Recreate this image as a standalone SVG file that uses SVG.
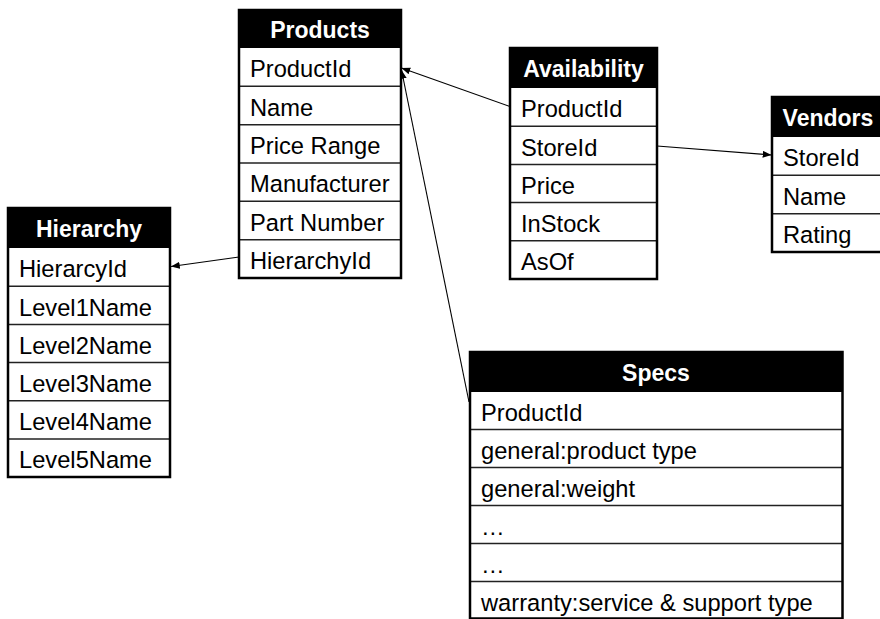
<svg xmlns="http://www.w3.org/2000/svg" width="880" height="619" viewBox="0 0 880 619">
<style>
.bg{fill:#fff}
.box{fill:none;stroke:#000;stroke-width:2.5}
.hd{fill:#000}
.sep{stroke:#222;stroke-width:1.5}
.t{font-family:"Liberation Sans",Arial,Helvetica,sans-serif;font-size:23.7px;fill:#000}
.h{font-family:"Liberation Sans",Arial,Helvetica,sans-serif;font-size:23px;font-weight:bold;fill:#fff;text-anchor:middle}
.c{stroke:#000;stroke-width:1.1;fill:none;marker-end:url(#ah)}
</style>
<defs>
<marker id="ah" viewBox="0 0 10 8" refX="10" refY="4" markerWidth="9" markerHeight="7" markerUnits="userSpaceOnUse" orient="auto">
<path d="M0,0 L10,4 L0,8 z" fill="#000"/>
</marker>
</defs>
<rect width="880" height="619" fill="#fff"/>

<g id="connectors">
<line class="c" x1="510" y1="106.5" x2="401.5" y2="68"/>
<line class="c" x1="469" y1="402" x2="401.5" y2="70"/>
<line class="c" x1="239" y1="257" x2="171" y2="266.5"/>
<line class="c" x1="657" y1="146" x2="771.5" y2="155"/>
</g>

<g id="products">
<rect class="bg" x="239" y="10" width="162" height="268"/>
<rect class="hd" x="239" y="10" width="162" height="38"/>
<line class="sep" x1="239" y1="86.3" x2="401" y2="86.3"/>
<line class="sep" x1="239" y1="124.7" x2="401" y2="124.7"/>
<line class="sep" x1="239" y1="163" x2="401" y2="163"/>
<line class="sep" x1="239" y1="201.3" x2="401" y2="201.3"/>
<line class="sep" x1="239" y1="239.7" x2="401" y2="239.7"/>
<rect class="box" x="239" y="10" width="162" height="268"/>
<text class="h" x="320" y="37.5">Products</text>
<text class="t" x="250" y="77.3">ProductId</text>
<text class="t" x="250" y="115.6">Name</text>
<text class="t" x="250" y="154">Price Range</text>
<text class="t" x="250" y="192.3">Manufacturer</text>
<text class="t" x="250" y="230.6">Part Number</text>
<text class="t" x="250" y="269">HierarchyId</text>
</g>

<g id="availability">
<rect class="bg" x="510" y="48" width="147" height="231"/>
<rect class="hd" x="510" y="48" width="147" height="40"/>
<line class="sep" x1="510" y1="126.2" x2="657" y2="126.2"/>
<line class="sep" x1="510" y1="164.4" x2="657" y2="164.4"/>
<line class="sep" x1="510" y1="202.6" x2="657" y2="202.6"/>
<line class="sep" x1="510" y1="240.8" x2="657" y2="240.8"/>
<rect class="box" x="510" y="48" width="147" height="231"/>
<text class="h" x="583.5" y="76.5">Availability</text>
<text class="t" x="521" y="117.3">ProductId</text>
<text class="t" x="521" y="155.5">StoreId</text>
<text class="t" x="521" y="193.7">Price</text>
<text class="t" x="521" y="231.9">InStock</text>
<text class="t" x="521" y="270.1">AsOf</text>
</g>

<g id="vendors">
<rect class="bg" x="772" y="97" width="112" height="155"/>
<rect class="hd" x="772" y="97" width="112" height="40"/>
<line class="sep" x1="772" y1="175.3" x2="884" y2="175.3"/>
<line class="sep" x1="772" y1="213.7" x2="884" y2="213.7"/>
<rect class="box" x="772" y="97" width="112" height="155"/>
<text class="h" x="828" y="125.5">Vendors</text>
<text class="t" x="783" y="166.3">StoreId</text>
<text class="t" x="783" y="204.6">Name</text>
<text class="t" x="783" y="243">Rating</text>
</g>

<g id="hierarchy">
<rect class="bg" x="8" y="208" width="162" height="269"/>
<rect class="hd" x="8" y="208" width="162" height="40"/>
<line class="sep" x1="8" y1="286.2" x2="170" y2="286.2"/>
<line class="sep" x1="8" y1="324.4" x2="170" y2="324.4"/>
<line class="sep" x1="8" y1="362.6" x2="170" y2="362.6"/>
<line class="sep" x1="8" y1="400.8" x2="170" y2="400.8"/>
<line class="sep" x1="8" y1="439" x2="170" y2="439"/>
<rect class="box" x="8" y="208" width="162" height="269"/>
<text class="h" x="89" y="236.5">Hierarchy</text>
<text class="t" x="19" y="277.3">HierarcyId</text>
<text class="t" x="19" y="315.5">Level1Name</text>
<text class="t" x="19" y="353.7">Level2Name</text>
<text class="t" x="19" y="391.9">Level3Name</text>
<text class="t" x="19" y="430.1">Level4Name</text>
<text class="t" x="19" y="468.3">Level5Name</text>
</g>

<g id="specs">
<rect class="bg" x="470" y="352" width="372.5" height="266.5"/>
<rect class="hd" x="470" y="352" width="372.5" height="40"/>
<line class="sep" x1="470" y1="429.5" x2="842.5" y2="429.5"/>
<line class="sep" x1="470" y1="467.5" x2="842.5" y2="467.5"/>
<line class="sep" x1="470" y1="505.5" x2="842.5" y2="505.5"/>
<line class="sep" x1="470" y1="543.5" x2="842.5" y2="543.5"/>
<line class="sep" x1="470" y1="581.5" x2="842.5" y2="581.5"/>
<rect class="box" x="470" y="352" width="372.5" height="266.5"/>
<text class="h" x="656" y="380.5">Specs</text>
<text class="t" x="481" y="420.5">ProductId</text>
<text class="t" x="481" y="458.5">general:product type</text>
<text class="t" x="481" y="496.5">general:weight</text>
<text class="t" x="481" y="534.5">…</text>
<text class="t" x="481" y="572.5">…</text>
<text class="t" x="481" y="610.5">warranty:service &amp; support type</text>
</g>
</svg>
